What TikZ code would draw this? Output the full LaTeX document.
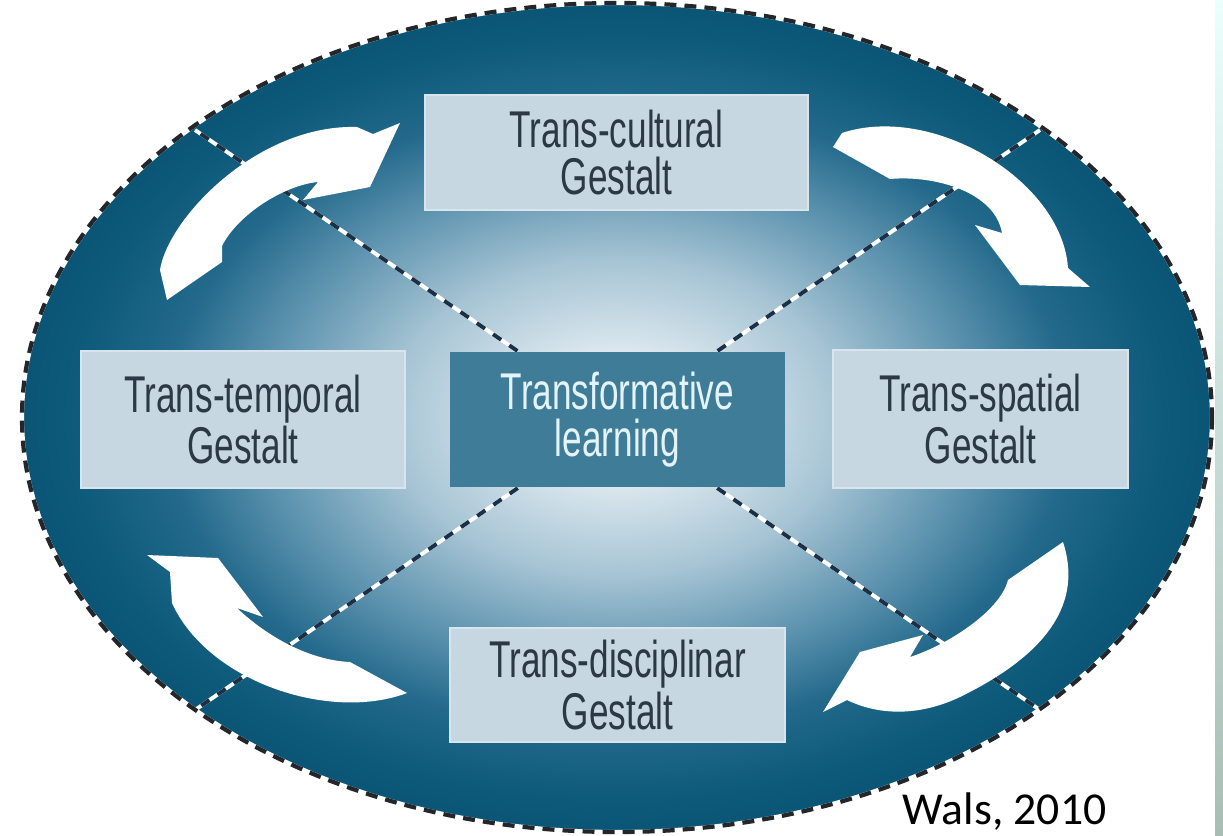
\documentclass[tikz,border=0pt]{standalone}
\usepackage{fontspec}
\newfontfamily\gestaltfont{Liberation Sans}[FakeStretch=0.68]
\newfontfamily\notefont{Carlito}

\definecolor{glowA}{HTML}{EEF4F7}
\definecolor{glowB}{HTML}{E0EBF1}
\definecolor{glowC}{HTML}{A6C4D4}
\definecolor{glowD}{HTML}{5A91AD}
\definecolor{glowE}{HTML}{23698B}
\definecolor{glowF}{HTML}{0D5A7B}
\definecolor{glowG}{HTML}{0A5576}
\definecolor{boxgrey}{HTML}{C6D7E1}
\definecolor{boxedge}{HTML}{D8E5EC}
\definecolor{boxtext}{HTML}{2B3846}
\definecolor{corefill}{HTML}{3E7C98}
\definecolor{coretext}{HTML}{E4F3F8}
\definecolor{spokedark}{HTML}{1B3046}
\definecolor{rimdark}{HTML}{23272C}

\pgfdeclareradialshading{gestaltglow}{\pgfpoint{0bp}{0bp}}{%
  color(0bp)=(glowA); color(3.5bp)=(glowB); color(9.5bp)=(glowC);
  color(15bp)=(glowD); color(19bp)=(glowE); color(23bp)=(glowF);
  color(25bp)=(glowG); color(50bp)=(glowG)}

\begin{document}
\begin{tikzpicture}[x=0.01cm, y=-0.01cm,
    gestalt/.style={fill=boxgrey, draw=boxedge, line width=0.6pt, text=boxtext,
        align=center, inner sep=0pt,
        font=\gestaltfont\fontsize{14.7}{13.4}\selectfont},
    core/.style={gestalt, fill=corefill, draw=none, text=coretext},
    spoke/.style={white, line width=1.1pt,
        postaction={draw=spokedark, dash pattern=on 2.8pt off 2.8pt}},
    rim/.style={white, line width=1.2pt,
        postaction={draw=rimdark, dash pattern=on 3.4pt off 2.3pt}},
    swirl/.style={fill=white}]
    \useasboundingbox (0,0) rectangle (1223,836);

    % background oval
    \shade[shading=gestaltglow] (617,417.5) ellipse [x radius=595, y radius=414.5];

    % boxes
    \node[core, minimum width=3.35cm, minimum height=1.35cm] (learn) at (617.5,419.5) {Transformative\\learning};
    \node[gestalt, minimum width=3.83cm, minimum height=1.15cm] (cult) at (616.5,152.5) {Trans-cultural\\Gestalt};
    \node[gestalt, minimum width=3.24cm, minimum height=1.37cm] (temp) at (243,419.5) {Trans-temporal\\Gestalt};
    \node[gestalt, minimum width=2.95cm, minimum height=1.38cm] (spat) at (980.5,419) {Trans-spatial\\Gestalt};
    \node[gestalt, minimum width=3.35cm, minimum height=1.14cm] (disc) at (617.5,685) {Trans-disciplinar\\Gestalt};

    % spokes out to the rim
    \coordinate (rimNW) at (195,130);
    \coordinate (rimNE) at (1040,130);
    \coordinate (rimSW) at (195,710);
    \coordinate (rimSE) at (1040,710);
    \foreach \r in {rimNW, rimNE, rimSW, rimSE}
        \draw[spoke] (learn) -- (\r);

    \draw[rim] (617,417.5) ellipse [x radius=595, y radius=414.5];

    % clockwise arrows
    \fill[swirl] (167,300) -- (160,270) .. controls (168,218) and (258,124) .. (357,127)
        -- (373,134) -- (400,123) -- (370,187) -- (303,200) -- (318,182)
        .. controls (285,185) and (238,214) .. (222,246) -- (222,262) -- cycle;
    \fill[swirl] (833,147) -- (842,133) .. controls (932,103) and (1062,180) .. (1068,268)
        -- (1090,287) -- (1020,285) -- (975,225) -- (1002,233)
        .. controls (995,192) and (935,175) .. (890,179) -- cycle;
    \fill[swirl] (1063,542) .. controls (1082,600) and (1052,652) .. (960,697)
        .. controls (920,716) and (880,716) .. (847,700) -- (823,712) -- (860,652)
        -- (923,635) -- (910,657) .. controls (945,646) and (1000,612) .. (1008,580) -- cycle;
    \fill[swirl] (147,555) -- (218,558) -- (263,617) -- (237,608)
        .. controls (262,632) and (305,660) .. (350,662) -- (407,693)
        .. controls (330,722) and (208,682) .. (172,603) -- (170,572) -- cycle;

    % source and side strip
    \node[anchor=base west, inner sep=0pt, font=\notefont\fontsize{13}{15}\selectfont] (src) at (902,824) {Wals, 2010};
    \shade[top color=green!10!cyan!8, bottom color=green!40!cyan!15!gray!60] (1215,0) rectangle (1223,836);
\end{tikzpicture}
\end{document}
